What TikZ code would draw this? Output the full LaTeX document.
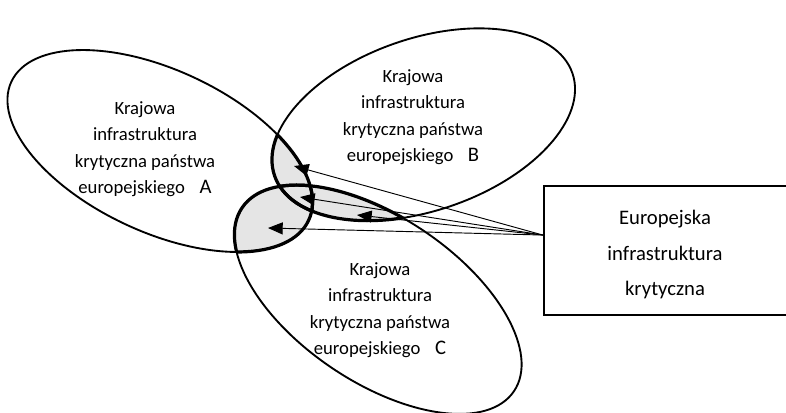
\documentclass[tikz,border=0pt]{standalone}
\usepackage{fontspec}
\setmainfont{Carlito}
\usetikzlibrary{arrows.meta,positioning}
\tikzset{
  rotA/.style={rotate around={-25:(160,151)}},
  rotB/.style={rotate around={19:(423.5,124.5)}},
  rotC/.style={rotate around={-34:(378,299.5)}},
  ell/.style={line width=1.4pt},
  lens/.style={line width=2.4pt},
  shade/.style={fill=black!10},
  arr/.style={-{Triangle[length=11pt,width=9pt]}, line width=0.7pt},
  txt/.style={align=center, font=\fontsize{14}{19.8}\selectfont},
  boxfrm/.style={draw, line width=1.8pt, inner sep=0pt,
    minimum width=183pt, minimum height=96.75pt},
  boxlbl/.style={align=center, font=\fontsize{15.5}{26.6}\selectfont},
}
\newcommand\ellA{(160,151) ellipse [x radius=164, y radius=81]}
\newcommand\ellB{(423.5,124.5) ellipse [x radius=157.5, y radius=86]}
\newcommand\ellC{(378,299.5) ellipse [x radius=164, y radius=82.5]}
\newcommand\tag[1]{\hspace{11pt}{\fontsize{15.5}{19.8}\selectfont #1}}
\begin{document}
\begin{tikzpicture}[x=0.75pt,y=-0.75pt]
    \useasboundingbox (0,0) rectangle (786,412);
    \begin{scope}
        \clip[rotA] \ellA;
        \fill[shade, rotB] \ellB;
        \fill[shade, rotC] \ellC;
    \end{scope}
    \begin{scope}
        \clip[rotB] \ellB;
        \fill[shade, rotC] \ellC;
    \end{scope}
    \draw[ell, rotA] \ellA;
    \draw[ell, rotB] \ellB;
    \draw[ell, rotC] \ellC;
    \begin{scope}
        \clip[rotA] \ellA;
        \draw[lens, rotB] \ellB;
        \draw[lens, rotC] \ellC;
    \end{scope}
    \begin{scope}
        \clip[rotB] \ellB;
        \draw[lens, rotA] \ellA;
        \draw[lens, rotC] \ellC;
    \end{scope}
    \begin{scope}
        \clip[rotC] \ellC;
        \draw[lens, rotA] \ellA;
        \draw[lens, rotB] \ellB;
    \end{scope}
    \node[txt] (txtA) at (145,149) {Krajowa\\infrastruktura\\krytyczna państwa\\europejskiego\tag{A}};
    \node[txt] (txtB) at (413,117) {Krajowa\\infrastruktura\\krytyczna państwa\\europejskiego\tag{B}};
    \node[txt] (txtC) at (380,310) {Krajowa\\infrastruktura\\krytyczna państwa\\europejskiego\tag{C}};
    \node[boxfrm] (box) at (666,250.5) {};
    \node[boxlbl] (lblE) at (665,254.5) {Europejska\\infrastruktura\\krytyczna};
    \coordinate (src) at ([yshift=11.6pt]box.west);
    \coordinate (tAB) at (294,166);
    \coordinate (tABC) at (300,197);
    \coordinate (tBC) at (357,215);
    \coordinate (tAC) at (268,228);
    \draw[arr] (src) -- (tAB);
    \draw[arr] (src) -- (tABC);
    \draw[arr] (src) -- (tBC);
    \draw[arr] (src) -- (tAC);
\end{tikzpicture}
\end{document}
